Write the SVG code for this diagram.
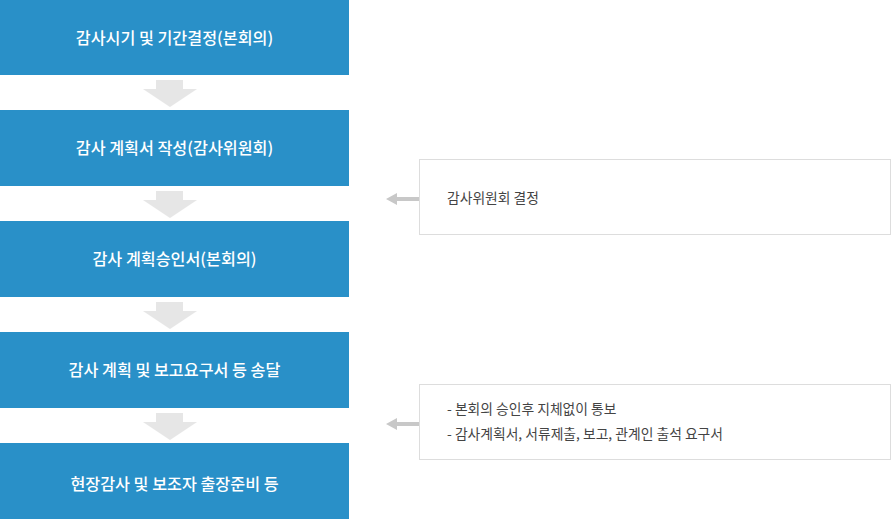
<svg xmlns="http://www.w3.org/2000/svg" width="891" height="519" viewBox="0 0 891 519">
<defs>
<style>
.step{fill:#2990c8}
.st{fill:#fff;font-family:"Noto Sans CJK KR","Noto Sans",sans-serif;font-size:16.2px;font-weight:500;text-anchor:middle}
.note{fill:#fff;stroke:#dddddd;stroke-width:1}
.nt{fill:#444;font-family:"Noto Sans CJK KR","Noto Sans",sans-serif;font-size:13.8px}
.down{fill:#e6e6e6}
.left{fill:#c8c8c8}
</style>
</defs>
<rect width="891" height="519" fill="#fff"/>
<g id="connectors">
<path class="down" d="M156 80H183V89H197L170 107L143 89H156Z"/>
<path class="down" d="M156 191H183V200H197L170 218L143 200H156Z"/>
<path class="down" d="M156 302H183V311H197L170 329L143 311H156Z"/>
<path class="down" d="M156 413H183V422H197L170 440L143 422H156Z"/>
<path class="left" d="M386 199L397 193V197H419V201H397V205Z"/>
<path class="left" d="M386 424L397 418V422H419V426H397V430Z"/>
</g>
<g id="step1"><rect class="step" x="0" y="0" width="349" height="75"/><text class="st" x="174.5" y="44">감사시기 및 기간결정(본회의)</text></g>
<g id="step2"><rect class="step" x="0" y="110" width="349" height="76"/><text class="st" x="174.5" y="154">감사 계획서 작성(감사위원회)</text></g>
<g id="step3"><rect class="step" x="0" y="221" width="349" height="76"/><text class="st" x="174.5" y="265">감사 계획승인서(본회의)</text></g>
<g id="step4"><rect class="step" x="0" y="332" width="349" height="76"/><text class="st" x="174.5" y="376">감사 계획 및 보고요구서 등 송달</text></g>
<g id="step5"><rect class="step" x="0" y="443" width="349" height="76"/><text class="st" x="174.5" y="490">현장감사 및 보조자 출장준비 등</text></g>
<g id="note1"><rect class="note" x="419.5" y="159.5" width="471" height="75"/><text class="nt" x="447" y="203">감사위원회 결정</text></g>
<g id="note2"><rect class="note" x="419.5" y="384.5" width="471" height="75"/><text class="nt" x="447" y="414">- 본회의 승인후 지체없이 통보</text><text class="nt" x="447" y="439">- 감사계획서, 서류제출, 보고, 관계인 출석 요구서</text></g>
</svg>
